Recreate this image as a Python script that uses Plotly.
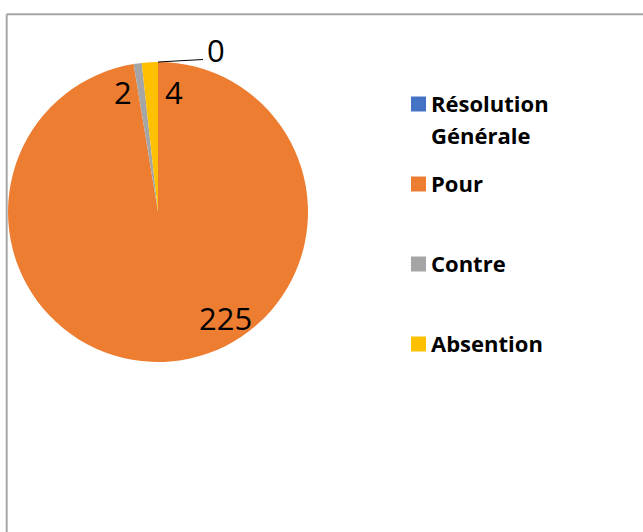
import plotly.graph_objects as go

# ---- data ----
categories = ["Résolution Générale", "Pour", "Contre", "Absention"]
values = [0, 225, 2, 4]
colors = ["#4472C4", "#ED7D31", "#A5A5A5", "#FFC000"]

# ---- layout constants (pixels) ----
W, H = 643, 532
def px(x):
    return x / W
def py(y):
    return 1 - y / H

cx, cy, r = 158, 212, 150  # pie centre/radius in px

fig = go.Figure()
fig.add_trace(go.Pie(
    labels=categories,
    values=values,
    marker=dict(colors=colors, line=dict(width=0)),
    sort=False,
    direction="clockwise",
    rotation=0,
    textinfo="none",
    hoverinfo="label+value",
    showlegend=False,
    domain=dict(x=[px(cx - r), px(cx + r)], y=[py(cy + r), py(cy - r)]),
))

# data labels (positions chosen like the reference's best-fit placement)
label_pos = [(216, 50), (225, 318), (123, 92), (174, 92)]
annotations = []
for v, (lx, ly) in zip(values, label_pos):
    annotations.append(dict(
        x=px(lx), y=py(ly), xref="paper", yref="paper",
        text=str(v), showarrow=False, xanchor="center", yanchor="middle",
        font=dict(family="Open Sans", size=31, color="#000000"),
    ))

shapes = []
# leader line for the zero slice
shapes.append(dict(type="line", xref="paper", yref="paper",
                   x0=px(cx), y0=py(cy - r), x1=px(203), y1=py(59.5),
                   line=dict(color="#000000", width=1)))

# manual legend
legend_y = [104, 184, 264, 344]
for cat, col, ly in zip(categories, colors, legend_y):
    shapes.append(dict(type="rect", xref="paper", yref="paper",
                       x0=px(411), x1=px(426), y0=py(ly - 7.5), y1=py(ly + 7.5),
                       fillcolor=col, line=dict(width=0)))
    words = cat.split(" ") if len(cat) > 12 else [cat]
    for i, w in enumerate(words):
        annotations.append(dict(
            x=px(429), y=py(ly - 1.5 + 32 * i), xref="paper", yref="paper",
            text=f"<b>{w}</b>", showarrow=False, xanchor="left", yanchor="middle",
            font=dict(family="Open Sans", size=22, color="#000000"),
        ))

# chart frame (top and left edges visible)
shapes.append(dict(type="line", xref="paper", yref="paper", layer="above",
                   x0=px(6.7), y0=py(14.3), x1=px(W + 5), y1=py(14.3),
                   line=dict(color="#A6A6A6", width=2)))
shapes.append(dict(type="line", xref="paper", yref="paper", layer="above",
                   x0=px(6.7), y0=py(14.3), x1=px(6.7), y1=py(H + 5),
                   line=dict(color="#A6A6A6", width=2)))

fig.update_layout(
    width=W, height=H,
    margin=dict(l=0, r=0, t=0, b=0),
    paper_bgcolor="white", plot_bgcolor="white",
    shapes=shapes, annotations=annotations,
)

fig.write_html("out.html",
               config={"displayModeBar": False},
               post_script="document.body.style.margin='0';document.body.style.overflow='hidden';")
